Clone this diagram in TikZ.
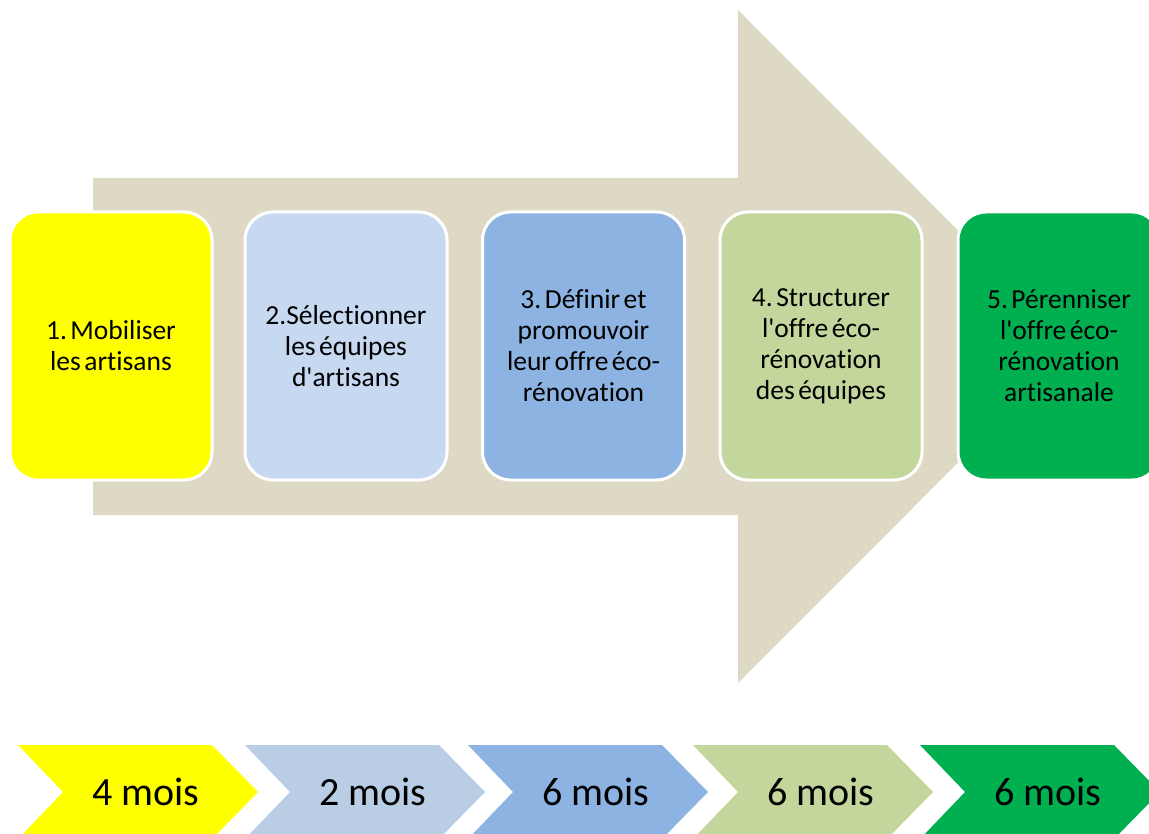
\documentclass[tikz,border=0pt]{standalone}
\usepackage{fontspec}
\setmainfont{Carlito}[RawFeature={-liga;-clig}]
\usepackage{tikz}
\usetikzlibrary{calc}
\definecolor{flecheGris}{HTML}{DDD9C4}
\definecolor{jaune}{HTML}{FFFF00}
\definecolor{bleuClair}{HTML}{C6D9F1}
\definecolor{bleuChev}{HTML}{B9CDE5}
\definecolor{bleuMoyen}{HTML}{8DB3E2}
\definecolor{vertClair}{HTML}{C3D69B}
\definecolor{vertFonce}{HTML}{00B050}
\newcommand{\apos}{\textquotesingle}
\newcommand{\serrer}{\spaceskip=3.5pt\relax}
\frenchspacing

\begin{document}
\begin{tikzpicture}[x=1pt,y=-1pt,
	etape/.style={draw=white,line width=3pt,rounded corners=28pt,
		minimum width=202pt,minimum height=268pt,text width=196pt,
		align=center,inner sep=0pt,
		font=\fontsize{27.5}{31}\selectfont,
		execute at begin node=\serrer},
	duree/.style={font=\fontsize{40}{44}\selectfont,inner sep=0pt}]
	\clip (0,0) rectangle (1149,834);
	\fill[white] (0,0) rectangle (1149,834);
	% grande fleche
	\fill[flecheGris] (93,178) -- (738,178) -- (738,10) -- (1074,346.5)
	-- (738,683) -- (738,515) -- (93,515) -- cycle;
	% etapes
	\node[etape,fill=jaune] (b1) at (111,346) {1. Mobiliser\\les artisans};
	\node[etape,fill=bleuClair] (b2) at (346,346) {2.Sélectionner\\les équipes\\d\apos artisans};
	\node[etape,fill=bleuMoyen] (b3) at (583.5,346) {3. Définir et\\promouvoir\\leur offre éco-\\rénovation};
	\node[etape,fill=vertClair] (b4) at (821,346) {4. Structurer\\l\apos offre éco-\\rénovation\\des équipes};
	\node[etape,fill=vertFonce] (b5) at (1059,346) {5. Pérenniser\\l\apos offre éco-\\rénovation\\artisanale};
	% chevrons
	\fill[jaune] (18,745) -- ++(194,0) -- ++(46,47) -- ++(-46,47) -- ++(-194,0) -- ++(45,-47) -- cycle;
	\fill[bleuChev] (245,745) -- ++(194,0) -- ++(46,47) -- ++(-46,47) -- ++(-194,0) -- ++(45,-47) -- cycle;
	\fill[bleuMoyen] (468,745) -- ++(194,0) -- ++(46,47) -- ++(-46,47) -- ++(-194,0) -- ++(45,-47) -- cycle;
	\fill[vertClair] (693,745) -- ++(194,0) -- ++(46,47) -- ++(-46,47) -- ++(-194,0) -- ++(45,-47) -- cycle;
	\fill[vertFonce] (920,745) -- ++(194,0) -- ++(46,47) -- ++(-46,47) -- ++(-194,0) -- ++(45,-47) -- cycle;
	\node[duree] (m1) at (146,792) {4 mois};
	\node[duree] (m2) at (373,792) {2 mois};
	\node[duree] (m3) at (596,792) {6 mois};
	\node[duree] (m4) at (821,792) {6 mois};
	\node[duree] (m5) at (1048,792) {6 mois};
\end{tikzpicture}
\end{document}
